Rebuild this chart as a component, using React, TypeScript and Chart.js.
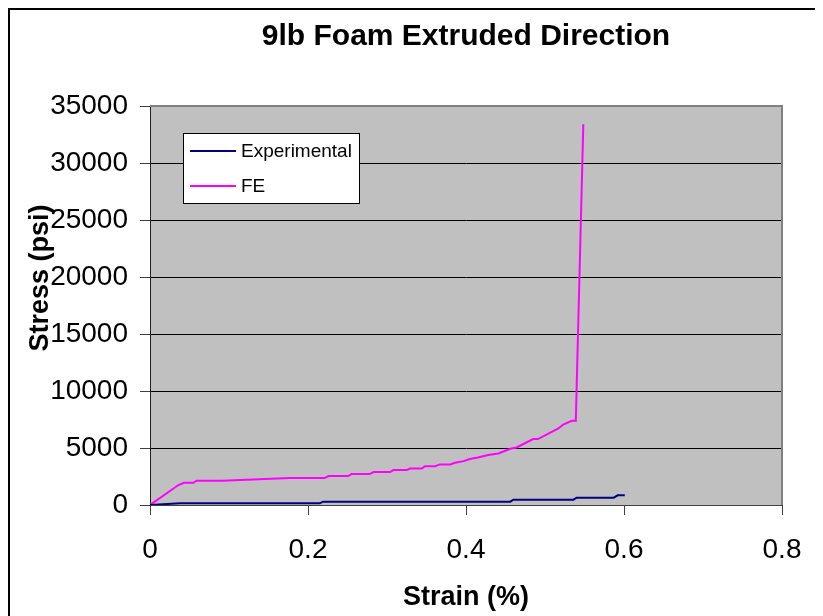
import React, { useEffect, useRef } from "react";
import { Chart, registerables } from "chart.js";

Chart.register(...registerables);

// Experimental curve (strain, stress psi)
const expStrain = [0, 0.038, 0.215, 0.219, 0.456, 0.46, 0.536, 0.54, 0.587, 0.592, 0.601];
const expStress = [0, 150, 150, 290, 290, 465, 465, 640, 640, 850, 850];

// FE curve (strain, stress psi)
const feStrain = [
  0, 0.036, 0.043, 0.055, 0.059, 0.091, 0.177, 0.221, 0.226, 0.251, 0.255, 0.278, 0.283,
  0.304, 0.308, 0.325, 0.329, 0.344, 0.348, 0.361, 0.367, 0.38, 0.386, 0.397, 0.405, 0.415,
  0.428, 0.441, 0.456, 0.464, 0.485, 0.491, 0.517, 0.523, 0.534, 0.539, 0.5485,
];
const feStress = [
  0, 1750, 1950, 1950, 2130, 2130, 2360, 2360, 2540, 2540, 2710, 2710, 2890,
  2890, 3060, 3060, 3200, 3200, 3410, 3410, 3560, 3560, 3700, 3850, 4030, 4170,
  4380, 4520, 4930, 5050, 5780, 5780, 6710, 7060, 7380, 7380, 33400,
];

const xTicks = [0, 0.2, 0.4, 0.6, 0.8];
const yTicks = [0, 5000, 10000, 15000, 20000, 25000, 30000, 35000];

const titleText = "9lb Foam Extruded Direction";
const xTitle = "Strain (%)";
const yTitle = "Stress (psi)";
const seriesNames = ["Experimental", "FE"];
const seriesColors = ["#000080", "#FF00FF"];

const FONT = "'Liberation Sans', Arial, sans-serif";

const plotBg = {
  id: "plotBg",
  beforeDraw(chart: any) {
    const { ctx, chartArea: a } = chart;
    ctx.save();
    ctx.fillStyle = "#C0C0C0";
    ctx.fillRect(a.left, a.top, a.right - a.left, a.bottom - a.top);
    ctx.restore();
  },
  afterDraw(chart: any) {
    const { ctx, chartArea: a } = chart;
    ctx.save();
    ctx.strokeStyle = "#808080";
    ctx.lineWidth = 2;
    ctx.beginPath();
    ctx.moveTo(a.left, a.top);
    ctx.lineTo(a.right, a.top);
    ctx.lineTo(a.right, a.bottom);
    ctx.stroke();
    ctx.restore();
  },
};

// Y axis title, placed slightly above the plot's middle as in the reference
const yTitlePlugin = {
  id: "yTitlePlugin",
  afterDraw(chart: any) {
    const { ctx, chartArea: a } = chart;
    ctx.save();
    ctx.translate(31, a.top + 172);
    ctx.rotate(-Math.PI / 2);
    ctx.font = `bold 27px ${FONT}`;
    ctx.fillStyle = "#000";
    ctx.textAlign = "center";
    ctx.textBaseline = "middle";
    ctx.fillText(yTitle, 0, 0);
    ctx.restore();
  },
};

const legendBox = {
  id: "legendBox",
  afterDraw(chart: any) {
    const { ctx, chartArea: a } = chart;
    const x = Math.round(a.left + 33);
    const y = Math.round(a.top + 27);
    const w = 176;
    const h = 70;
    ctx.save();
    ctx.fillStyle = "#FFFFFF";
    ctx.fillRect(x, y, w, h);
    ctx.strokeStyle = "#000000";
    ctx.lineWidth = 1;
    ctx.strokeRect(x + 0.5, y + 0.5, w, h);
    ctx.font = `19px ${FONT}`;
    ctx.textBaseline = "middle";
    chart.data.datasets.forEach((ds: any, i: number) => {
      const ly = y + 18 + i * 35;
      ctx.strokeStyle = ds.borderColor;
      ctx.lineWidth = 2;
      ctx.beginPath();
      ctx.moveTo(x + 7, ly);
      ctx.lineTo(x + 53, ly);
      ctx.stroke();
      ctx.fillStyle = "#000";
      ctx.fillText(ds.label, x + 58, ly + 1);
    });
    ctx.restore();
  },
};

export default function App() {
  const ref = useRef<HTMLCanvasElement | null>(null);

  useEffect(() => {
    if (!ref.current) return;
    const chart = new Chart(ref.current, {
      type: "scatter",
      data: {
        datasets: [
          {
            label: seriesNames[0],
            data: expStrain.map((x, i) => ({ x, y: expStress[i] })),
            borderColor: seriesColors[0],
            backgroundColor: seriesColors[0],
            borderWidth: 2,
            showLine: true,
            pointRadius: 0,
            tension: 0,
          },
          {
            label: seriesNames[1],
            data: feStrain.map((x, i) => ({ x, y: feStress[i] })),
            borderColor: seriesColors[1],
            backgroundColor: seriesColors[1],
            borderWidth: 2,
            showLine: true,
            pointRadius: 0,
            tension: 0,
          },
        ],
      },
      options: {
        animation: false,
        responsive: false,
        layout: { padding: { left: 0, right: 33, top: 0, bottom: 0 } },
        plugins: {
          legend: { display: false },
          tooltip: { enabled: false },
          title: {
            display: true,
            text: titleText,
            fullSize: false,
            color: "#000",
            font: { family: FONT, size: 30, weight: "bold", lineHeight: 1.2 },
            padding: { top: 9, bottom: 51 },
          },
        },
        scales: {
          x: {
            type: "linear",
            min: 0,
            max: 0.8,
            afterBuildTicks: (s: any) => {
              s.ticks = xTicks.map((v) => ({ value: v }));
            },
            afterFit: (s: any) => {
              s.height = 113;
              s.paddingLeft = 0;
              s.paddingRight = 0;
            },
            ticks: {
              color: "#000",
              font: { family: FONT, size: 28 },
              padding: 18,
              maxRotation: 0,
              callback: (v: any) => String(v),
            },
            grid: {
              drawOnChartArea: false,
              drawTicks: true,
              tickLength: 10,
              tickColor: "#404040",
            },
            border: { display: true, color: "#404040", width: 1 },
            title: {
              display: true,
              text: xTitle,
              color: "#000",
              font: { family: FONT, size: 27, weight: "bold", lineHeight: 1.2 },
              padding: { top: 0, bottom: 3.8 },
            },
          },
          y: {
            type: "linear",
            min: 0,
            max: 35000,
            afterBuildTicks: (s: any) => {
              s.ticks = yTicks.map((v) => ({ value: v }));
            },
            afterFit: (s: any) => {
              s.width = 140;
              s.paddingTop = 0;
              s.paddingBottom = 0;
            },
            ticks: {
              color: "#000",
              font: { family: FONT, size: 28 },
              padding: 12,
              callback: (v: any) => String(v),
            },
            grid: {
              color: (c: any) => (c.tick && c.tick.value === 35000 ? "#808080" : "#000000"),
              lineWidth: 1,
              drawTicks: true,
              tickLength: 10,
              tickColor: "#404040",
            },
            border: { display: true, color: "#202020", width: 1 },
            title: { display: false },
          },
        },
      },
      plugins: [plotBg, yTitlePlugin, legendBox],
    });
    return () => chart.destroy();
  }, []);

  return (
    <div
      style={{
        width: 805,
        height: 608,
        border: "2px solid #000",
        background: "#fff",
      }}
    >
      <canvas ref={ref} width={805} height={608} style={{ display: "block" }} />
    </div>
  );
}
